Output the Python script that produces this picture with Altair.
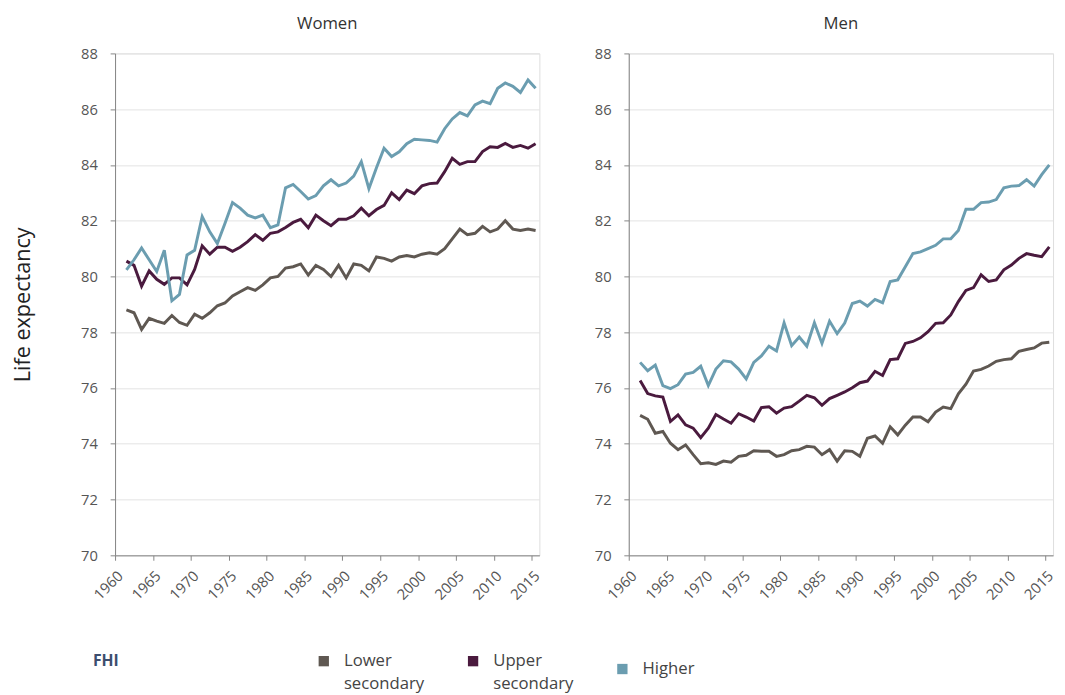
import altair as alt
import pandas as pd

# ---- data ----
years = list(range(1961, 2016))
education_levels = ["Lower secondary", "Upper secondary", "Higher"]
level_colors = ["#5f5852", "#4a1a3e", "#6b9db0"]
x_ticks = [1960, 1965, 1970, 1975, 1980, 1985, 1990, 1995, 2000, 2005, 2010, 2015]
y_ticks = [70, 72, 74, 76, 78, 80, 82, 84, 86, 88]

women_lower = [78.8, 78.7, 78.1, 78.5, 78.4, 78.32, 78.6, 78.35, 78.25, 78.65,
               78.5, 78.7, 78.95, 79.05, 79.3, 79.45, 79.6, 79.5, 79.7, 79.95,
               80.0, 80.3, 80.35, 80.45, 80.05, 80.4, 80.25, 80.0, 80.4, 79.95,
               80.45, 80.4, 80.2, 80.7, 80.65, 80.55, 80.7, 80.75, 80.7, 80.8,
               80.85, 80.8, 81.0, 81.35, 81.7, 81.5, 81.55, 81.8, 81.6, 81.7,
               82.0, 81.7, 81.65, 81.7, 81.65]
women_upper = [80.55, 80.4, 79.65, 80.2, 79.9, 79.72, 79.95, 79.95, 79.7, 80.25,
               81.1, 80.8, 81.05, 81.05, 80.9, 81.05, 81.25, 81.5, 81.3, 81.55,
               81.6, 81.76, 81.94, 82.05, 81.75, 82.2, 82.0, 81.82, 82.05, 82.05,
               82.18, 82.45, 82.18, 82.4, 82.55, 83.0, 82.76, 83.1, 82.97, 83.25,
               83.33, 83.35, 83.76, 84.24, 84.02, 84.12, 84.12, 84.48, 84.65, 84.63,
               84.77, 84.63, 84.7, 84.6, 84.76]
women_higher = [80.24, 80.6, 81.02, 80.6, 80.18, 80.94, 79.13, 79.36, 80.77, 80.94,
                82.15, 81.6, 81.18, 81.9, 82.65, 82.45, 82.2, 82.1, 82.2, 81.75,
                81.85, 83.18, 83.3, 83.05, 82.78, 82.9, 83.25, 83.47, 83.25, 83.35,
                83.6, 84.12, 83.15, 83.9, 84.6, 84.3, 84.47, 84.76, 84.92, 84.9,
                84.88, 84.82, 85.3, 85.65, 85.88, 85.76, 86.15, 86.29, 86.2, 86.75,
                86.94, 86.82, 86.6, 87.05, 86.75]
men_lower = [75.02, 74.88, 74.38, 74.44, 74.02, 73.79, 73.96, 73.61, 73.29, 73.32,
             73.26, 73.38, 73.34, 73.55, 73.59, 73.75, 73.73, 73.73, 73.55, 73.61,
             73.75, 73.79, 73.91, 73.88, 73.61, 73.79, 73.38, 73.75, 73.73, 73.55,
             74.2, 74.28, 74.02, 74.61, 74.32, 74.67, 74.96, 74.96, 74.79, 75.14,
             75.32, 75.26, 75.79, 76.14, 76.61, 76.67, 76.79, 76.96, 77.02, 77.05,
             77.32, 77.38, 77.44, 77.61, 77.64]
men_upper = [76.27, 75.8, 75.72, 75.68, 74.8, 75.04, 74.68, 74.56, 74.22, 74.56,
             75.05, 74.89, 74.74, 75.08, 74.96, 74.82, 75.3, 75.33, 75.1, 75.28,
             75.33, 75.53, 75.74, 75.65, 75.38, 75.62, 75.74, 75.86, 76.01, 76.19,
             76.25, 76.6, 76.45, 77.02, 77.05, 77.6, 77.67, 77.8, 78.02, 78.32,
             78.34, 78.62, 79.1, 79.5, 79.6, 80.06, 79.82, 79.88, 80.24, 80.41,
             80.65, 80.82, 80.76, 80.71, 81.06]
men_higher = [76.92, 76.62, 76.82, 76.09, 75.98, 76.12, 76.5, 76.56, 76.78, 76.09,
              76.68, 76.98, 76.94, 76.68, 76.33, 76.92, 77.15, 77.5, 77.33, 78.34,
              77.52, 77.83, 77.5, 78.34, 77.6, 78.4, 77.95, 78.33, 79.03, 79.12,
              78.94, 79.18, 79.06, 79.82, 79.88, 80.35, 80.82, 80.88, 81.0, 81.12,
              81.35, 81.35, 81.65, 82.41, 82.41, 82.65, 82.67, 82.76, 83.18, 83.24,
              83.26, 83.47, 83.24, 83.65, 84.0]

rows = []
for sex, series in [("Women", [women_lower, women_upper, women_higher]),
                    ("Men", [men_lower, men_upper, men_higher])]:
    for level, vals in zip(education_levels, series):
        for yr, v in zip(years, vals):
            rows.append({"sex": sex, "education": level, "year": yr, "value": v})
df = pd.DataFrame(rows)

FONT = "Open Sans"
GRID = "#e2e2e2"
AXIS = "#858585"
LABEL = "#555555"

color = alt.Color(
    "education:N",
    scale=alt.Scale(domain=education_levels, range=level_colors),
    legend=alt.Legend(
        orient="none", legendX=204, legendY=610, direction="horizontal",
        title=None, symbolType="square", symbolSize=16, symbolStrokeWidth=6.5,
        labelFont=FONT, labelFontSize=17, labelColor="#444444",
        columnPadding=34, labelOffset=12,
        labelExpr="indexof(datum.label, ' ') > 0 ? [slice(datum.label, 0, indexof(datum.label, ' ')), slice(datum.label, indexof(datum.label, ' ') + 1)] : datum.label",
    ),
)


def panel(sex, left):
    y_axis = alt.Axis(
        values=y_ticks, grid=True, gridColor=GRID, domainColor=AXIS,
        tickColor=AXIS, tickSize=5, labelPadding=13, labelFont=FONT,
        labelFontSize=15, labelColor=LABEL,
        title="Life expectancy" if left else None,
        titleFont=FONT, titleFontSize=22, titleFontWeight="normal",
        titleColor="#222222", titlePadding=47,
    )
    common_x = dict(
        values=x_ticks, format="d", labelAngle=-45, grid=False,
        domainColor=AXIS, tickColor=AXIS, tickSize=5, labelPadding=8,
        labelFont=FONT, labelFontSize=15, labelColor=LABEL,
    )
    if left:
        x_axis = alt.Axis(
            **common_x,
            title="FHI", titleFont=FONT, titleFontSize=16, titleFontWeight="bold",
            titleColor="#3c4d6e", titleAnchor="start", titleAlign="left",
            titleBaseline="middle", titleX=-23, titleY=107,
        )
    else:
        x_axis = alt.Axis(**common_x, title=None)
    return (
        alt.Chart(df)
        .transform_filter(alt.datum.sex == sex)
        .transform_calculate(pos="datum.year + 0.5")
        .mark_line(strokeWidth=3)
        .encode(
            x=alt.X("pos:Q", scale=alt.Scale(domain=[1960, 2016], nice=False, zero=False), axis=x_axis),
            y=alt.Y("value:Q", scale=alt.Scale(domain=[70, 88], nice=False, zero=False), axis=y_axis),
            color=color,
        )
        .properties(
            width=432, height=511,
            title=alt.TitleParams(sex, font=FONT, fontSize=17, fontWeight="normal",
                                  color="#333333", offset=14),
        )
    )


chart = (
    alt.hconcat(panel("Women", True), panel("Men", False), spacing=51)
    .properties(padding={"left": 3, "top": 0, "right": 0, "bottom": 0})
    .configure_view(stroke=None)
    .configure(background="white", style={"guide-label": {"lineHeight": 23}})
)

chart.save("out.html", embed_options={"renderer": "svg", "actions": False})
